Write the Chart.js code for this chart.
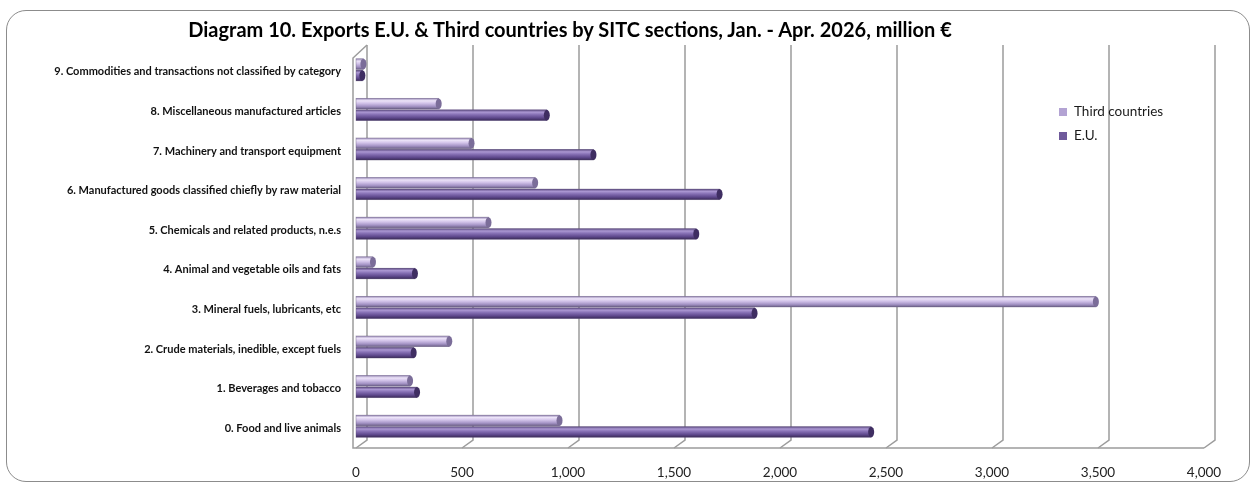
<!DOCTYPE html>
<html>
<head>
<meta charset="utf-8">
<title>Diagram 10</title>
<script src="https://cdn.jsdelivr.net/npm/chart.js@4.4.1/dist/chart.umd.min.js"></script>
<style>
    html, body { margin: 0; padding: 0; background: #fff; }
    #wrap { position: relative; width: 1257px; height: 484px; overflow: hidden; }
    #frame {
        position: absolute; left: 6px; top: 10px; width: 1244px; height: 472px;
        box-sizing: border-box; border: 1.5px solid #8c8c8c; border-radius: 20px;
    }
    #title {
        position: absolute; left: 0; top: 17px; width: 1140px; text-align: center;
        font: bold 20px Lato, "Liberation Sans", sans-serif; line-height: 24px; color: #000;
    }
    #chartBox { position: absolute; left: 0; top: 0; width: 1257px; height: 484px; }
</style>
</head>
<body>
<div id="wrap">
    <div id="frame"></div>
    <div id="chartBox"><canvas id="exportsChart"></canvas></div>
    <div id="title">Diagram 10. Exports E.U. &amp; Third countries by SITC sections, Jan. - Apr. 2026, million €</div>
</div>
<script>
// SITC sections, top to bottom as in the diagram
const categories = [
    '9. Commodities and transactions not classified by category',
    '8. Miscellaneous manufactured articles',
    '7. Machinery and transport equipment',
    '6. Manufactured goods classified chiefly by raw material',
    '5. Chemicals and related products, n.e.s',
    '4. Animal and vegetable oils and fats',
    '3. Mineral fuels, lubricants, etc',
    '2. Crude materials, inedible, except fuels',
    '1. Beverages and tobacco',
    '0. Food and live animals'
];

// million €
const thirdCountries = [35, 390, 545, 845, 625, 80, 3490, 440, 255, 960];
const euCountries = [30, 900, 1120, 1715, 1605, 278, 1880, 272, 288, 2430];

const seriesNames = ['Third countries', 'E.U.'];

// value axis
const X_MIN = 0;
const X_MAX = 4000;
const X_STEP = 500;

// colours: legend swatch, cylinder shading, end cap
const seriesStyle = [
    {
        swatch: '#b3a3d3',
        body: [[0, '#9a8bb8'], [0.22, '#ece3f8'], [0.45, '#d3c4ea'], [0.75, '#a594c6'], [1, '#6d6189']],
        cap: '#7b6d99'
    },
    {
        swatch: '#6f5a9b',
        body: [[0, '#5d4a82'], [0.22, '#ab97d2'], [0.45, '#8670b4'], [0.75, '#5f498d'], [1, '#3b2b5a']],
        cap: '#3f2e62'
    }
];

// 3D depth of the back wall
const DEPTH_X = 11;
const DEPTH_Y = 8;

// back wall, floor and left wall
const walls3d = {
    id: 'walls3d',
    beforeDatasetsDraw(chart) {
        const { ctx, chartArea: a, scales: { x } } = chart;
        const top = a.top - 5;
        const floorFront = a.bottom + 2;
        const floorBack = floorFront - DEPTH_Y;
        ctx.save();
        ctx.strokeStyle = '#9c9c9c';
        ctx.lineWidth = 1.5;
        for (let v = X_MIN; v <= X_MAX; v += X_STEP) {
            const px = x.getPixelForValue(v);
            ctx.beginPath();
            ctx.moveTo(px + DEPTH_X, top);
            ctx.lineTo(px + DEPTH_X, floorBack);
            ctx.lineTo(px, floorFront);
            ctx.stroke();
        }
        // floor front edge and left wall
        const x0 = x.getPixelForValue(X_MIN) - 3;
        ctx.beginPath();
        ctx.moveTo(x.getPixelForValue(X_MAX), floorFront);
        ctx.lineTo(x0, floorFront);
        ctx.lineTo(x0, top + 13);
        ctx.lineTo(x0 + 3 + DEPTH_X, top);
        ctx.stroke();
        ctx.restore();
    }
};

// shade the bars as cylinders
const cylinders = {
    id: 'cylinders',
    afterDatasetsDraw(chart) {
        const ctx = chart.ctx;
        chart.data.datasets.forEach((ds, di) => {
            const st = seriesStyle[di];
            chart.getDatasetMeta(di).data.forEach(bar => {
                const { x, y, base, height } = bar.getProps(['x', 'y', 'base', 'height'], true);
                const top = y - height / 2;
                const g = ctx.createLinearGradient(0, top, 0, top + height);
                st.body.forEach(([o, c]) => g.addColorStop(o, c));
                ctx.save();
                ctx.fillStyle = g;
                ctx.fillRect(base, top, x - base, height);
                ctx.strokeStyle = 'rgba(90,80,110,0.45)';
                ctx.lineWidth = 0.8;
                ctx.strokeRect(base, top, x - base, height);
                ctx.beginPath();
                ctx.ellipse(x, y, 3, height / 2, 0, 0, Math.PI * 2);
                ctx.fillStyle = st.cap;
                ctx.fill();
                ctx.restore();
            });
        });
    }
};

// legend inside the plot, right side
const legendPos = { x: 1059, y: 112, gap: 24, size: 8 };
const plotLegend = {
    id: 'plotLegend',
    afterDraw(chart) {
        const ctx = chart.ctx;
        ctx.save();
        ctx.font = '13.5px Lato, "Liberation Sans", sans-serif';
        ctx.textBaseline = 'middle';
        chart.data.datasets.forEach((ds, i) => {
            const cy = legendPos.y + i * legendPos.gap;
            ctx.fillStyle = seriesStyle[i].swatch;
            ctx.fillRect(legendPos.x, cy - legendPos.size / 2, legendPos.size, legendPos.size);
            ctx.fillStyle = '#1a1a1a';
            ctx.fillText(ds.label, legendPos.x + 15, cy);
        });
        ctx.restore();
    }
};

Chart.defaults.font.family = 'Lato, "Liberation Sans", sans-serif';

new Chart(document.getElementById('exportsChart'), {
    type: 'bar',
    data: {
        labels: categories,
        datasets: [
            { label: seriesNames[0], data: thirdCountries, backgroundColor: seriesStyle[0].swatch },
            { label: seriesNames[1], data: euCountries, backgroundColor: seriesStyle[1].swatch }
        ]
    },
    options: {
        indexAxis: 'y',
        responsive: true,
        maintainAspectRatio: false,
        animation: false,
        locale: 'en-US',
        categoryPercentage: 0.58,
        barPercentage: 0.92,
        layout: { padding: { top: 50, right: 53, bottom: 0, left: 0 } },
        plugins: {
            legend: { display: false },
            title: { display: false },
            tooltip: { enabled: false }
        },
        scales: {
            x: {
                min: X_MIN,
                max: X_MAX,
                grid: { display: false, drawTicks: false },
                border: { display: false },
                ticks: { stepSize: X_STEP, padding: 19, color: '#222', font: { size: 13.5 } },
                afterFit(scale) { scale.height = 38; }
            },
            y: {
                grid: { display: false, drawTicks: false },
                border: { display: false },
                ticks: {
                    autoSkip: false,
                    padding: 15,
                    labelOffset: 2,
                    color: '#111',
                    font: { size: 11, weight: 'bold' }
                },
                afterFit(scale) { scale.width = 356; }
            }
        }
    },
    plugins: [walls3d, cylinders, plotLegend]
});
</script>
</body>
</html>
